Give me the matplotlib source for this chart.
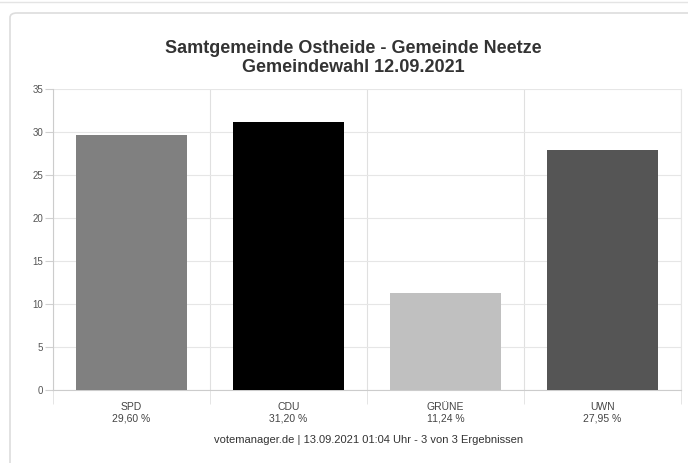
import matplotlib.pyplot as plt
from matplotlib.patches import FancyBboxPatch
from matplotlib.ticker import MultipleLocator

parties = ["SPD", "CDU", "GRÜNE", "UWN"]
shares = [29.60, 31.20, 11.24, 27.95]
colors = ["#808080", "#000000", "#c0c0c0", "#555555"]
title = "Samtgemeinde Ostheide - Gemeinde Neetze\nGemeindewahl 12.09.2021"
footer = "votemanager.de | 13.09.2021 01:04 Uhr - 3 von 3 Ergebnissen"

plt.rcParams["font.family"] = ["Liberation Sans", "DejaVu Sans"]

fig = plt.figure(figsize=(6.88, 4.63), dpi=100)

# panel frame around the chart (kept behind the axes)
frame = FancyBboxPatch((10 / 688, -0.05), 1.0, 1 - 13 / 463 + 0.05,
                       boxstyle="round,pad=0,rounding_size=0.01",
                       transform=fig.transFigure, facecolor="white",
                       edgecolor="#dddddd", linewidth=1.2, zorder=-10)
fig.patches.append(frame)
fig.add_artist(plt.Line2D([0, 1], [1 - 2 / 463] * 2, color="#e4e4e4", lw=1,
                          transform=fig.transFigure, zorder=-10))

ax = fig.add_axes([53 / 688, 1 - 390 / 463, 628 / 688, 301 / 463])
ax.set_facecolor("none")
x = range(len(parties))
ax.bar(x, shares, width=0.71, color=colors, zorder=3)

ax.set_xlim(-0.5, len(parties) - 0.5)
ax.set_ylim(0, 35)
ax.yaxis.set_major_locator(MultipleLocator(5))
ax.grid(axis="y", color="#e6e6e6", lw=0.8, zorder=0)

# category separators, extending below the axis as ticks
ax.set_xticks([i - 0.5 for i in range(len(parties) + 1)], minor=True)
ax.grid(axis="x", which="minor", color="#e0e0e0", lw=0.8, zorder=0)
ax.set_xticks(list(x))
ax.set_xticklabels([f"{p}\n{v:.2f} %".replace(".", ",") for p, v in zip(parties, shares)],
                   fontsize=7.5, color="#444444", linespacing=1.15)
ax.tick_params(axis="x", which="major", length=0, pad=9)
ax.tick_params(axis="x", which="minor", length=10, color="#e0e0e0")
ax.tick_params(axis="y", length=6, color="#d0d0d0", labelsize=7,
               labelcolor="#555555", pad=1)

ax.spines["top"].set_visible(False)
ax.spines["right"].set_color("#e6e6e6")
ax.spines["left"].set_color("#cccccc")
ax.spines["bottom"].set_color("#cccccc")

fig.text(353 / 688, 1 - 58 / 463, title, ha="center", va="center", fontsize=13,
         fontweight="bold", color="#333333", linespacing=1.2)
fig.text(369 / 688, 1 - 440 / 463, footer, ha="center", va="center", fontsize=8,
         color="#333333")

fig.savefig("out.png", dpi=100)
